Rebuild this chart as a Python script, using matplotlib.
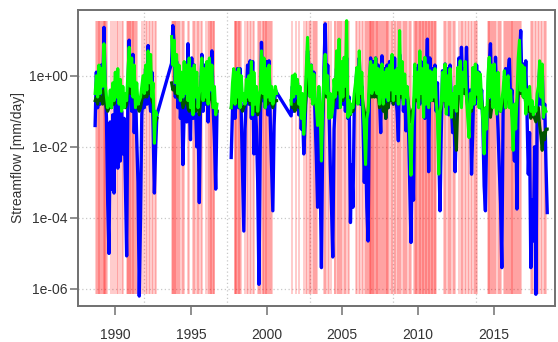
import numpy as np
import matplotlib
matplotlib.use("Agg")
import matplotlib.pyplot as plt

plt.rcParams['font.family'] = ['Liberation Sans', 'DejaVu Sans']

# monthly values, stored as log10(streamflow in mm/day)
# segment starts (decimal years)
seg_starts = [1988.67, 1993.72, 1997.66, 2001.62]

blue_a = [-1.4, 0.1, -0.9, 0.2, -0.8, 0.3, -0.7, 1.36, -0.3, -1.2,
          -3.6, -5.0, -1.3, -3.2, -1.1, -3.3, -0.6, 0.0, -2.6, -0.8,
          -2.4, -1.0, -2.2, -1.2, -3.0, -5.07, -0.5, 1.0, -0.3, -1.0,
          0.6, -1.6, -0.4, -1.8, -3.0, -6.2, -4.0, -1.1, -0.5, -0.9,
          0.2, -0.8, 0.85, -0.6, -1.0, 0.1, -1.5, -3.3, -2.0, -1.1]
green_a = [-0.5, 0.0, -0.6, 0.3, -0.5, 0.2, -0.3, 0.9, -0.2, -0.6,
           -0.9, -0.8, -0.4, -0.9, -0.2, -0.7, 0.1, -0.6, 0.2, -0.8,
           -0.1, -1.0, -0.3, -0.9, -0.5, -0.7, 0.1, 0.8, -0.3, 0.5,
           -0.6, 0.3, -0.9, -0.2, -0.8, -0.7, -0.6, -0.3, 0.0, -0.5,
           0.3, -0.4, 0.7, -0.2, 0.6, -0.6, -0.2, -1.9, -1.0, -1.1]
dark_a = [-0.7, -0.6, -0.8, -0.5, -0.7, -0.6, -0.8, -0.4, -0.7, -0.9,
          -1.0, -0.9, -0.8, -0.9, -0.6, -0.8, -0.4, -0.3, -0.6, -0.5,
          -0.7, -0.6, -0.8, -0.7, -0.9, -0.8, -0.3, -0.1, -0.5, -0.3,
          -0.6, -0.4, -0.8, -0.6, -0.9, -1.0, -0.9, -0.7, -0.5, -0.6,
          -0.3, -0.6, -0.2, -0.5, -0.4, -0.7, -0.8, -1.5, -1.3, -1.2]

blue_b = [0.35, 1.41, 0.9, -0.6, 0.4, -0.9, 0.2, -1.2, -0.5, -2.5,
          -1.0, 0.1, -1.3, 0.9, -0.8, -1.8, 0.5, -1.2, 0.3, -0.9,
          -2.0, -1.1, -3.57, -0.6, 0.6, -1.0, 0.3, -0.8, -0.2, -1.3,
          0.2, -0.6, 0.7, -0.9, -1.8, -3.19, -1.0]
green_b = [1.1, 0.3, 1.0, -0.2, 0.6, -0.5, 0.3, -0.7, 0.1, -0.6,
           0.4, -0.5, 0.3, -0.7, 0.5, -0.9, 0.2, -1.1, 0.3, -0.6,
           0.1, -0.9, -0.5, -0.3, 0.5, -0.7, 0.2, -0.6, 0.4, -0.8,
           0.5, -0.4, 0.3, -0.9, -0.3, -1.1, -0.8]
dark_b = [-0.2, -0.4, -0.3, -0.5, -0.4, -0.6, -0.5, -0.7, -0.6, -0.9,
          -0.8, -0.7, -0.6, -0.9, -1.0, -0.8, -0.6, -0.9, -0.7, -1.0,
          -0.9, -0.8, -1.1, -0.7, -0.4, -0.6, -0.5, -0.7, -0.6, -0.8,
          -0.5, -0.6, -0.7, -0.9, -0.8, -1.0, -1.0]

blue_c = [-2.3, -1.0, -0.4, -1.2, -0.6, 0.2, -0.9, 0.2, -1.1, -2.8,
          -4.37, -1.5, -0.5, 0.3, -0.8, 0.42, -1.2, 0.4, -2.2, -0.6,
          -1.5, -3.0, -5.87, -2.0, 0.94, -0.7, 0.2, -0.9, 0.4, -1.1,
          0.42, -1.3, -2.5, -3.8, -1.4, -0.4, -0.47]
green_c = [-0.9, -0.2, 0.2, -0.8, 0.1, -0.6, 0.2, -0.9, 0.0, -0.7,
           -0.5, -0.8, -0.1, -0.6, 0.0, -0.7, 0.4, -1.1, 0.1, -0.8,
           -0.3, -1.0, -0.6, -0.4, 0.7, -0.5, 0.5, -0.9, 0.2, -0.6,
           0.3, -0.7, -0.3, -0.8, -0.6, -0.3, -0.5]
dark_c = [-0.9, -0.7, -0.6, -0.8, -0.7, -0.6, -0.8, -0.7, -0.9, -1.0,
          -0.9, -0.8, -0.6, -0.7, -0.5, -0.8, -0.6, -0.9, -0.8, -1.0,
          -0.9, -1.1, -1.0, -0.8, -0.4, -0.6, -0.5, -0.7, -0.6, -0.8,
          -0.5, -0.7, -0.8, -0.9, -0.8, -0.7, -0.7]

blue_d = [-1.13, -0.3, -1.0, 0.0, -0.8,
          -0.2, -1.1, -0.6, -1.5, -0.9, -2.2, -1.4, -0.3, 0.7, 0.2, -0.5, 0.3,
          -0.6, 0.1, -1.2, -2.3, -3.7, -0.5, -2.8, -5.4, -1.8, 0.2, 1.46, -0.4,
          0.3, -0.9, -2.5, -3.7, -5.1, -1.5, -0.8, 0.2, -0.9, 0.6, -0.5, 0.3,
          -0.8, 0.4, -1.0, 0.5, -1.2, -0.6, -4.13, -2.5, -3.7, -1.0, -0.4, 0.1,
          -0.7, 0.5, -0.8, -0.3, -1.4, -3.0, -1.8, -3.7, -4.65, -0.6, 0.5, -0.3,
          0.4, -0.5, 0.5, -0.2, 0.3, -0.6, -1.6, 0.56, -0.8, 0.2, -1.2, 0.3,
          -0.9, 0.4, -0.5, 0.1, -0.8, 0.5, -0.6, -1.0, -1.83, 0.6, -0.4, 0.2,
          -1.0, -0.3, -1.55, -0.5, -1.4, -3.0, -4.69, -2.0, -3.5, -0.3, 0.2, -0.7,
          0.3, -0.8, 0.4, -0.5, 0.3, -1.2, -0.4, 1.03, -2.7, 0.5, -0.6, 0.2,
          -0.7, 0.3, -1.0, -0.2, -2.0, -3.8, -1.6, 0.14, -0.6, 0.33, -0.9, 0.2,
          -1.1, 0.3, -0.8, -1.6, -0.6, -2.7, -1.2, -0.3, 0.5, -0.6, 0.8, -0.3,
          0.2, -0.5, 0.8, -0.7, -1.4, -0.4, -2.77, -1.5, 0.1, -0.8, 0.3, -0.6,
          0.1, -0.9, -0.4, -1.4, -3.1, -3.8, -1.6, -0.5, 0.3, 0.9, -0.7, 0.2,
          -0.8, 0.52, -0.6, -1.5, -2.6, -3.6, -5.4, -1.0, -0.3, 0.2, -0.7, 0.1,
          0.47, -0.8, -0.4, -1.6, -2.4, -0.8, -3.75, -0.2, 0.5, 1.27, -0.4, 0.33,
          -0.6, 0.42, -1.1, -2.77, -1.6, -5.4, -3.5, -4.65, -2.0, -6.15, -1.2, -0.6,
          0.2, -0.8, 0.3, -1.2, -0.8, -2.5, -3.85]
green_d = [-0.8, 0.0, -0.6, 0.05, -0.5,
           -0.1, -0.8, -0.3, -1.2, -0.5, -1.65, -0.7, 0.2, 1.08, 0.1, -0.6, 0.3,
           -0.8, 0.05, -0.6, -0.9, -1.4, -0.3, -1.08, -2.4, -0.9, 0.05, 0.6, -0.5,
           0.0, -1.2, -0.5, -1.17, -0.9, -0.1, -0.6, 0.7, -0.4, 1.03, -0.9, 0.4,
           -0.6, 0.52, -0.3, 1.55, -1.17, -0.7, -1.08, -0.8, -0.9, -0.5, -0.2, 0.23,
           -0.8, 0.7, -0.5, 0.1, -0.9, -1.5, -2.5, -1.2, -1.0, 0.0, 0.4, -0.5,
           0.3, -0.4, 0.5, -0.5, 0.2, -0.8, -0.3, 0.33, -0.8, 0.1, -0.6, 0.2,
           -0.7, 0.3, -0.4, 0.6, -0.7, 0.14, -0.5, 0.2, -0.8, 1.27, -0.5, 0.4,
           -0.8, 0.05, -0.6, -0.3, -0.9, -1.8, -2.8, -1.4, -0.9, 0.33, -0.6, 0.1,
           -0.9, 0.7, -0.5, 0.2, -1.17, 0.52, -0.8, 0.3, -0.9, 0.14, -0.7, 0.1,
           -0.6, 0.2, -0.7, -1.2, -2.77, -1.0, -0.8, 0.1, -0.7, 0.33, -1.08, 0.0,
           -0.8, 0.2, -1.17, -0.5, -0.9, -0.3, -1.0, 0.23, -0.5, 0.42, -0.9, 0.1,
           -0.3, 0.4, -0.6, -1.2, -1.74, -0.5, -0.9, 0.23, -0.8, 0.33, -0.52, 0.1,
           -0.9, 0.05, -0.7, -1.3, -2.2, -0.9, -1.5, 0.0, 0.52, -0.6, 0.3, -0.9,
           0.33, -0.8, -1.08, 0.1, -0.9, -1.0, -0.7, -0.4, 0.14, -0.9, -0.2, 0.0,
           -0.9, -0.42, -1.2, -2.1, -0.8, -1.5, -0.6, 0.5, 1.0, -0.42, 0.3, -0.6,
           0.23, -1.08, -0.4, -0.8, -0.3, -1.0, -0.7, -1.1, -0.9, -1.0, -0.5, -0.3,
           0.42, -0.6, 0.33, -1.17, -0.9, -1.0]
dark_d = [-0.7, -0.9, -0.8, -1.0, -0.8,
          -0.7, -0.9, -0.8, -1.0, -0.9, -1.2, -1.0, -0.5, -0.1, -0.4, -0.3, -0.5,
          -0.6, -0.5, -0.7, -0.9, -1.1, -0.8, -1.2, -1.5, -1.0, -0.4, -0.3, -0.6,
          -0.5, -0.7, -0.8, -1.0, -0.9, -0.7, -0.6, -0.4, -0.5, -0.3, -0.6, -0.5,
          -0.7, -0.4, -0.6, -0.3, -0.8, -1.0, -1.1, -0.9, -1.0, -0.8, -0.6, -0.5,
          -0.7, -0.4, -0.6, -0.5, -0.8, -1.0, -1.3, -1.1, -1.0, -0.5, -0.3, -0.6,
          -0.4, -0.6, -0.3, -0.6, -0.5, -0.9, -0.8, -0.6, -1.0, -0.7, -1.2, -0.8,
          -0.9, -0.6, -0.7, -0.4, -0.8, -0.5, -0.7, -0.6, -0.8, -0.3, -0.6, -0.4,
          -0.7, -0.3, -0.6, -0.5, -0.8, -1.1, -1.3, -1.0, -0.9, -0.5, -0.7, -0.6,
          -0.8, -0.4, -0.6, -0.5, -0.9, -0.4, -0.7, -0.5, -0.8, -0.5, -0.7, -0.6,
          -0.7, -0.5, -0.8, -1.0, -1.4, -1.1, -0.9, -0.6, -0.7, -0.5, -0.9, -0.6,
          -0.8, -0.6, -0.9, -0.8, -1.2, -1.5, -2.1, -0.9, -0.5, -0.3, -0.5, -0.4,
          -0.5, -0.3, -0.6, -0.9, -1.2, -0.8, -1.0, -0.5, -0.7, -0.4, -0.6, -0.5,
          -0.7, -0.52, -0.7, -1.0, -1.4, -1.1, -1.0, -0.8, -0.7, -1.17, -0.9, -0.8,
          -0.5, -0.7, -0.9, -0.6, -0.8, -1.0, -0.9, -0.6, -0.42, -0.9, -0.6, -0.7,
          -0.6, -0.8, -1.0, -1.4, -1.1, -1.2, -0.8, -0.5, -0.3, -0.5, -0.4, -0.6,
          -0.5, -0.8, -0.7, -1.0, -0.9, -1.2, -1.0, -1.1, -1.2, -1.3, -1.1, -0.9,
          -1.4, -1.7, -2.1, -1.6, -1.8, -1.5, -1.5]

# dates (decimal years) of the flagged days, drawn as red lines
red_years = [
    1988.75, 1988.80, 1988.86, 1988.92, 1988.95, 1989.00, 1989.04, 1989.10,
    1989.19, 1989.23, 1989.27, 1989.31, 1989.35, 1989.39, 1989.43,
    1989.74, 1989.86, 1990.00, 1990.12, 1990.20, 1990.32, 1990.45, 1990.50,
    1990.79, 1990.83, 1990.87, 1990.90, 1990.95, 1991.00, 1991.04, 1991.10,
    1991.15, 1991.20, 1991.25, 1991.30, 1991.36, 1991.42,
    1991.74, 1991.90, 1992.00, 1992.10, 1992.20, 1992.28, 1992.40, 1992.50,
    1992.60, 1992.72,
    1993.76, 1993.80, 1993.84, 1993.88, 1993.92, 1993.97, 1994.02, 1994.08,
    1994.15, 1994.22, 1994.30, 1994.38, 1994.45, 1994.52, 1994.78, 1994.84,
    1995.13, 1995.22, 1995.30, 1995.40, 1995.48, 1995.56, 1995.64, 1995.72,
    1996.02, 1996.10, 1996.18, 1996.24, 1996.30, 1996.35, 1996.40, 1996.45,
    1996.50, 1996.55,
    1997.88, 1997.92, 1997.96, 1998.00, 1998.05, 1998.10, 1998.15, 1998.20,
    1998.26, 1998.32, 1998.60, 1998.70, 1998.80, 1998.87, 1998.98, 1999.08,
    1999.18,
    1999.42, 1999.50, 1999.58, 1999.66, 1999.74, 1999.78, 1999.83, 1999.88,
    1999.93, 1999.98, 2000.04, 2000.10, 2000.16, 2000.22, 2000.28, 2000.33,
    2001.66, 2001.95, 2002.15, 2002.45, 2002.60, 2002.70, 2002.80, 2002.88,
    2002.96, 2003.05, 2003.12, 2003.20, 2003.28, 2003.35,
    2003.78, 2003.84, 2003.95, 2004.05, 2004.15, 2004.24,
    2004.50, 2004.55, 2004.62, 2004.70, 2004.78, 2004.85, 2004.92, 2005.00,
    2005.10, 2005.18, 2005.26, 2005.35, 2005.44,
    2005.92, 2006.00, 2006.10, 2006.20, 2006.30, 2006.38, 2006.48, 2006.56,
    2006.65,
    2006.72, 2006.76, 2006.80, 2006.84, 2006.88, 2006.92, 2006.96, 2007.00,
    2007.05, 2007.10, 2007.15, 2007.20, 2007.26, 2007.32, 2007.38, 2007.44,
    2007.50, 2007.56, 2007.62, 2007.68, 2007.74, 2007.80, 2007.86, 2007.92,
    2007.98, 2008.04, 2008.10,
    2008.22, 2008.30, 2008.38, 2008.45, 2008.50, 2008.58, 2008.66, 2008.74,
    2008.82, 2008.90, 2008.98, 2009.06, 2009.14, 2009.22, 2009.30, 2009.38,
    2009.46, 2009.53,
    2009.76, 2009.80, 2009.85, 2009.90, 2009.95, 2010.00, 2010.05, 2010.10,
    2010.15, 2010.20, 2010.25, 2010.30, 2010.35, 2010.40, 2010.45, 2010.50,
    2010.55, 2010.60, 2010.65, 2010.70, 2010.75, 2010.80, 2010.85, 2010.90,
    2010.95, 2011.00, 2011.05, 2011.10, 2011.15, 2011.18,
    2011.70, 2011.78, 2011.86, 2011.95, 2012.04, 2012.12, 2012.20, 2012.28,
    2012.36, 2012.43,
    2012.73, 2012.82, 2012.90, 2013.00, 2013.08, 2013.18, 2013.28, 2013.38,
    2013.48, 2013.58, 2013.68, 2013.78, 2013.86, 2013.93,
    2014.60, 2014.66, 2014.72, 2014.78, 2014.84, 2014.90, 2014.96, 2015.02,
    2015.10, 2015.18, 2015.26, 2015.34, 2015.42, 2015.47,
    2015.70, 2015.76, 2015.82, 2015.88, 2015.94, 2016.00, 2016.06, 2016.12,
    2016.18, 2016.24, 2016.30, 2016.36, 2016.42, 2016.48, 2016.54, 2016.60,
    2016.66, 2016.72, 2016.78,
    2017.46, 2017.52, 2017.60, 2017.70, 2017.80, 2017.90, 2018.00, 2018.10,
    2018.20, 2018.30, 2018.38, 2018.44]
red_low, red_high = 7e-7, 35.0

x_ticks = [1990, 1995, 2000, 2005, 2010, 2015]
y_ticks = [1e0, 1e-2, 1e-4, 1e-6]
y_labels = ['1e+00', '1e-02', '1e-04', '1e-06']
grid_x = [1991.90, 1997.38, 2002.85, 2008.33, 2013.81]


def seg(start, vals):
    t = start + np.arange(len(vals)) / 12.0
    return list(t), list(10.0 ** np.array(vals))


def join(parts, gaps):
    # gaps[i] True -> break the line between part i and i+1
    tt, qq = [], []
    for i, (t, q) in enumerate(parts):
        tt += t
        qq += q
        if i < len(parts) - 1 and gaps[i]:
            tt.append(np.nan)
            qq.append(np.nan)
    return np.array(tt), np.array(qq)


blue_t, blue_q = join([seg(s, v) for s, v in zip(seg_starts, [blue_a, blue_b, blue_c, blue_d])],
                      [False, True, False])
green_t, green_q = join([seg(s, v) for s, v in zip(seg_starts, [green_a, green_b, green_c, green_d])],
                        [True, True, True])
dark_t, dark_q = join([seg(s, v) for s, v in zip(seg_starts, [dark_a, dark_b, dark_c, dark_d])],
                      [True, True, True])

fig = plt.figure(figsize=(5.58, 3.42), dpi=100)
ax = fig.add_axes([78 / 558, 36 / 342, 477 / 558, 296 / 342])

ax.vlines(red_years, red_low, red_high, color=(1, 0, 0, 0.22), lw=1.3, zorder=1)
for g in grid_x:
    ax.axvline(g, color='#c8c8c8', lw=0.9, ls=(0, (1, 2)), zorder=0.5)
for g in y_ticks:
    ax.axhline(g, color='#c8c8c8', lw=0.9, ls=(0, (1, 2)), zorder=0.5)

ax.plot(blue_t, blue_q, color='#0000ff', lw=2.4, zorder=2)
ax.plot(dark_t, dark_q, color='#005500', lw=2.2, zorder=2.5)
ax.plot(green_t, green_q, color='#00ff00', lw=2.2, zorder=3)

ax.set_yscale('log')
ax.set_xlim(1987.54, 2019.05)
ax.set_ylim(10 ** -6.48, 10 ** 1.85)
ax.set_yticks(y_ticks)
ax.set_yticklabels(y_labels)
ax.yaxis.set_minor_locator(matplotlib.ticker.NullLocator())
ax.set_xticks(x_ticks)
ax.set_xticklabels([str(x) for x in x_ticks])

for s in ax.spines.values():
    s.set_color('#707070')
    s.set_linewidth(1.4)
ax.tick_params(axis='x', direction='out', length=6.5, width=1.1, color='#707070',
               pad=9, labelsize=10, labelcolor='#333333')
ax.tick_params(axis='y', direction='out', length=5.5, width=1.1, color='#707070',
               pad=2, labelsize=10, labelcolor='#333333')
fig.text(0.032, 0.54, 'Streamflow [mm/day]', rotation=90, ha='center', va='center',
         fontsize=10, color='#333333')

fig.savefig('out.png', dpi=100)
